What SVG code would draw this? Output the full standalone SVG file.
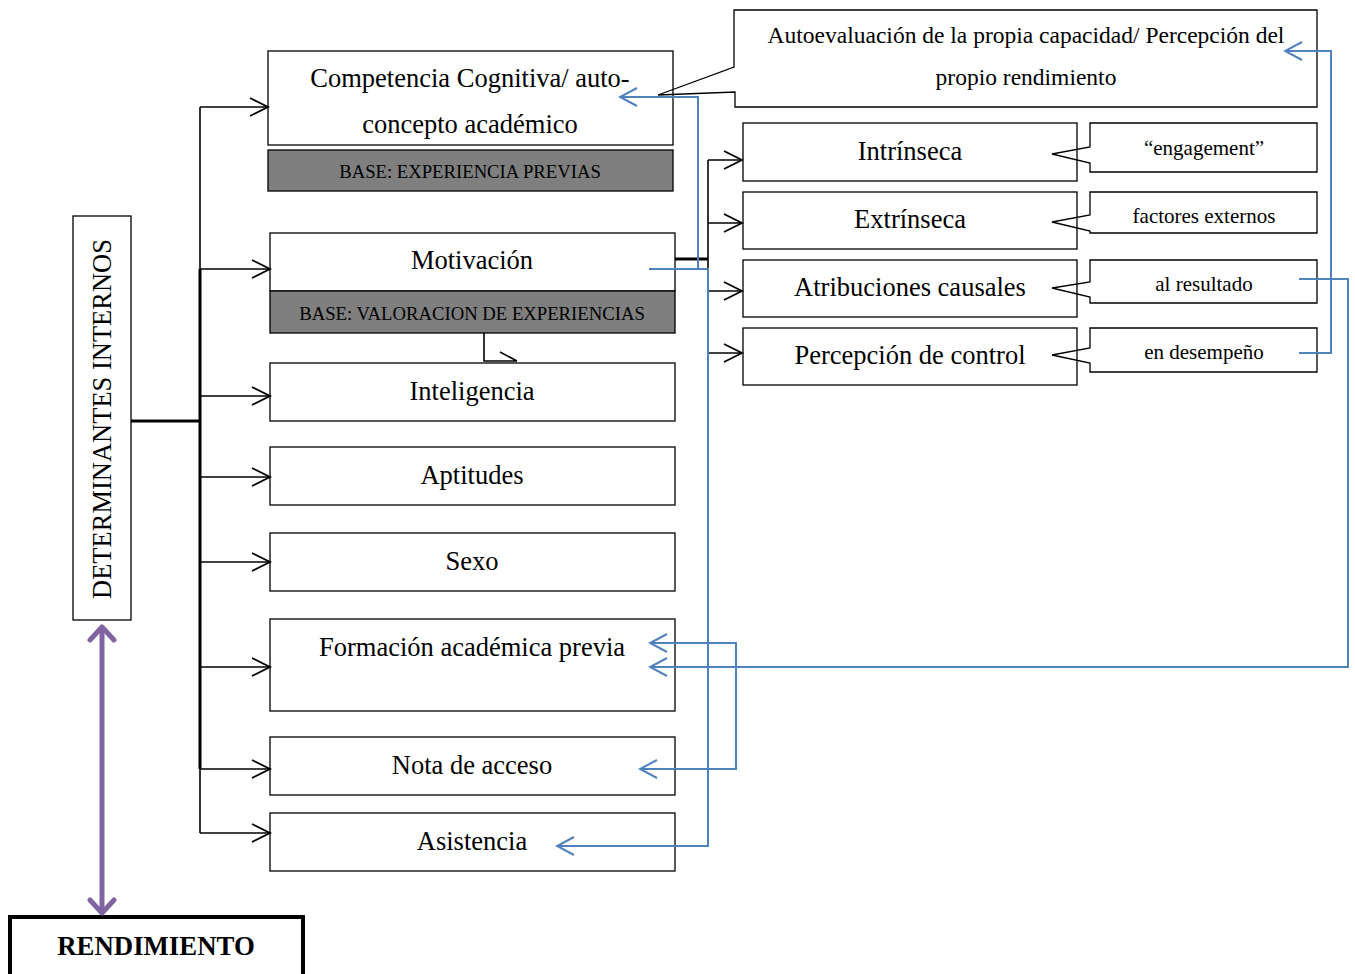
<svg xmlns="http://www.w3.org/2000/svg" width="1355" height="974" viewBox="0 0 1355 974">
  <style>
    .box { fill: #ffffff; stroke: #000000; stroke-width: 1.3; }
    .base { fill: #7f7f7f; stroke: #000000; stroke-width: 1.3; }
    .call { fill: none; stroke: #000000; stroke-width: 1.3; }
    .t { font-family: "Liberation Serif", "Times New Roman", serif; fill: #000000; text-anchor: middle; }
    .big { font-size: 26.5px; }
    .mid { font-size: 23.5px; }
    .sm { font-size: 21px; }
    .bs { font-size: 18.7px; }
    .lk { fill: none; stroke: #000000; stroke-width: 1.6; }
    .lk3 { fill: none; stroke: #000000; stroke-width: 3; }
    .lb { fill: none; stroke: #4f81bd; stroke-width: 2; }
    .lp { fill: none; stroke: #8064a2; stroke-width: 5; }
  </style>
  <defs>
    <marker id="ak" markerUnits="userSpaceOnUse" viewBox="-20 -11 22 22" markerWidth="22" markerHeight="22" refX="0" refY="0" orient="auto">
      <path d="M-18,-9 L0,0 L-18,9" fill="none" stroke="#000000" stroke-width="1.8"/>
    </marker>
    <marker id="ab" markerUnits="userSpaceOnUse" viewBox="-20 -11 22 22" markerWidth="22" markerHeight="22" refX="0" refY="0" orient="auto-start-reverse">
      <path d="M-17,-9 L0,0 L-17,9" fill="none" stroke="#4f81bd" stroke-width="2"/>
    </marker>
    <marker id="ap" markerUnits="userSpaceOnUse" viewBox="-18 -15 22 30" markerWidth="22" markerHeight="30" refX="0" refY="0" orient="auto-start-reverse">
      <path d="M-13,-12 L0,0 L-13,12" fill="none" stroke="#8064a2" stroke-width="5" stroke-linecap="round" stroke-linejoin="round"/>
    </marker>
  </defs>

  <rect width="1355" height="974" fill="#ffffff"/>

  <!-- left column -->
  <g id="determinantes">
    <rect class="box" x="73" y="216" width="58" height="404"/>
    <text class="t big" transform="translate(111,419) rotate(-90)">DETERMINANTES INTERNOS</text>
  </g>
  <g id="rendimiento">
    <rect x="10" y="917" width="293" height="70" fill="#ffffff" stroke="#000000" stroke-width="4"/>
    <text class="t" font-size="26.8px" font-weight="bold" x="156" y="955">RENDIMIENTO</text>
  </g>

  <!-- internal determinants -->
  <g id="competencia">
    <rect class="box" x="268" y="51" width="405" height="94"/>
    <text class="t big" x="470" y="87">Competencia Cognitiva/ auto-</text>
    <text class="t big" x="470" y="133">concepto académico</text>
  </g>
  <g id="base-experiencia">
    <rect class="base" x="268" y="150" width="405" height="41"/>
    <text class="t bs" x="470" y="178">BASE: EXPERIENCIA PREVIAS</text>
  </g>
  <g id="motivacion">
    <rect class="box" x="270" y="233" width="405" height="58"/>
    <text class="t big" x="472" y="269">Motivación</text>
  </g>
  <g id="base-valoracion">
    <rect class="base" x="270" y="291" width="405" height="42"/>
    <text class="t bs" x="472" y="320">BASE: VALORACION DE EXPERIENCIAS</text>
  </g>
  <g id="inteligencia">
    <rect class="box" x="270" y="363" width="405" height="58"/>
    <text class="t big" x="472" y="400">Inteligencia</text>
  </g>
  <g id="aptitudes">
    <rect class="box" x="270" y="447" width="405" height="58"/>
    <text class="t big" x="472" y="484">Aptitudes</text>
  </g>
  <g id="sexo">
    <rect class="box" x="270" y="533" width="405" height="58"/>
    <text class="t big" x="472" y="570">Sexo</text>
  </g>
  <g id="formacion">
    <rect class="box" x="270" y="619" width="405" height="92"/>
    <text class="t big" x="472" y="656">Formación académica previa</text>
  </g>
  <g id="nota">
    <rect class="box" x="270" y="737" width="405" height="58"/>
    <text class="t big" x="472" y="774">Nota de acceso</text>
  </g>
  <g id="asistencia">
    <rect class="box" x="270" y="813" width="405" height="58"/>
    <text class="t big" x="472" y="850">Asistencia</text>
  </g>

  <!-- motivation types -->
  <g id="intrinseca">
    <rect class="box" x="743" y="123" width="334" height="58"/>
    <text class="t big" x="910" y="160">Intrínseca</text>
  </g>
  <g id="extrinseca">
    <rect class="box" x="743" y="192" width="334" height="57"/>
    <text class="t big" x="910" y="228">Extrínseca</text>
  </g>
  <g id="atribuciones">
    <rect class="box" x="743" y="260" width="334" height="57"/>
    <text class="t big" x="910" y="296">Atribuciones causales</text>
  </g>
  <g id="percepcion">
    <rect class="box" x="743" y="328" width="334" height="57"/>
    <text class="t big" x="910" y="364">Percepción de control</text>
  </g>

  <!-- callouts -->
  <g id="autoevaluacion">
    <path class="call" d="M734,10 H1317 V107 H735 V92 L658,95 L734,67 Z"/>
    <text class="t mid" x="1026" y="43">Autoevaluación de la propia capacidad/ Percepción del</text>
    <text class="t mid" x="1026" y="85">propio rendimiento</text>
  </g>
  <g id="engagement">
    <path class="call" d="M1090,123 H1317 V172 H1090 V163 L1052,154 L1090,147 Z"/>
    <text class="t sm" x="1204" y="155">“engagement”</text>
  </g>
  <g id="factores">
    <path class="call" d="M1090,192 H1317 V233 H1090 V231 L1052,222 L1090,215 Z"/>
    <text class="t sm" x="1204" y="223">factores externos</text>
  </g>
  <g id="resultado">
    <path class="call" d="M1090,260 H1317 V303 H1090 V297 L1052,288 L1090,282 Z"/>
    <text class="t sm" x="1204" y="291">al resultado</text>
  </g>
  <g id="desempeno">
    <path class="call" d="M1090,328 H1317 V372 H1090 V363 L1052,355 L1090,348 Z"/>
    <text class="t sm" x="1204" y="359">en desempeño</text>
  </g>

  <!-- connectors -->
  <g id="connectors">
    <!-- trunk from the internal determinants box -->
    <path class="lk3" d="M131,421 H200"/>
    <path class="lk" d="M200,107 V833"/>
    <path class="lk3" d="M200,269 V769"/>
    <path class="lk" d="M200,107 H268" marker-end="url(#ak)"/>
    <path class="lk" d="M200,269 H270" marker-end="url(#ak)"/>
    <path class="lk" d="M200,396 H270" marker-end="url(#ak)"/>
    <path class="lk" d="M200,477 H270" marker-end="url(#ak)"/>
    <path class="lk" d="M200,562 H270" marker-end="url(#ak)"/>
    <path class="lk" d="M200,667 H270" marker-end="url(#ak)"/>
    <path class="lk" d="M200,769 H270" marker-end="url(#ak)"/>
    <path class="lk" d="M200,833 H270" marker-end="url(#ak)"/>

    <!-- valoracion to inteligencia -->
    <path class="lk" d="M484,333 V361 H517 M500,352 L517,361"/>

    <!-- motivation branches -->
    <path class="lk3" d="M675,259 H708"/>
    <path class="lk" d="M708,160 V353"/>
    <path class="lk" d="M708,160 H742" marker-end="url(#ak)"/>
    <path class="lk" d="M708,223 H742" marker-end="url(#ak)"/>
    <path class="lk" d="M708,291 H742" marker-end="url(#ak)"/>
    <path class="lk" d="M708,353 H742" marker-end="url(#ak)"/>

    <!-- feedback links -->
    <path class="lb" d="M649,269 H708 V846 H557" marker-end="url(#ab)"/>
    <path class="lb" d="M698,269 V97 H620" marker-end="url(#ab)"/>
    <path class="lb" d="M650,643 H736 V769 H640" marker-start="url(#ab)" marker-end="url(#ab)"/>
    <path class="lb" d="M1299,279 H1348 V667 H650" marker-end="url(#ab)"/>
    <path class="lb" d="M1299,353 H1331 V51 H1285" marker-end="url(#ab)"/>

    <!-- determinants and performance -->
    <path class="lp" d="M102,627 V913" marker-start="url(#ap)" marker-end="url(#ap)"/>
  </g>
</svg>
